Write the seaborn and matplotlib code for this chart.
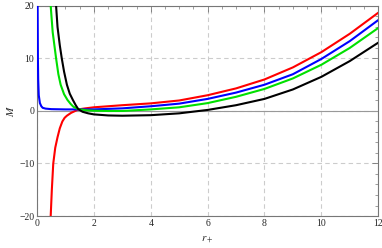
import numpy as np
import pandas as pd
import seaborn as sns
import matplotlib
matplotlib.use("Agg")
import matplotlib.pyplot as plt
from matplotlib.ticker import MultipleLocator

# ------------------------------------------------------------------------------------------------ #
# Values
red_r = [0.48, 0.52, 0.57, 0.64, 0.72, 0.80, 0.89, 0.97, 1.05, 1.2, 1.34, 1.45, 1.7, 2, 3, 4, 5, 6, 7,
         8, 9, 10, 11, 12]
red_m = [-20, -15, -10, -7, -5, -3.3, -2, -1.3, -0.9, -0.35, 0, 0.3, 0.5, 0.7, 1.1, 1.45, 2.0, 3.0, 4.3,
         6.0, 8.3, 11.2, 14.7, 18.7]

blue_r = [0.02, 0.025, 0.03, 0.04, 0.06, 0.1, 0.15, 0.2, 0.3, 0.5, 1, 1.45, 2, 3, 4, 5, 6, 7, 8, 9,
          10, 11, 12]
blue_m = [20, 15, 10, 6, 3, 1.5, 0.9, 0.6, 0.45, 0.35, 0.3, 0.3, 0.3, 0.5, 0.9, 1.4, 2.3, 3.5, 5.0, 7.0,
          9.9, 13.3, 17.3]

green_r = [0.48, 0.55, 0.67, 0.75, 0.83, 0.95, 1.07, 1.18, 1.28, 1.45, 1.7, 2, 2.5, 3, 4, 5, 6, 7, 8,
           9, 10, 11, 12]
green_m = [20, 15, 10, 7, 5, 3.2, 2.1, 1.35, 0.8, 0.35, 0.15, 0.05, 0.0, 0.0, 0.3, 0.7, 1.5, 2.7, 4.2,
           6.2, 8.8, 12.0, 15.8]

black_r = [0.67, 0.72, 0.80, 0.87, 0.95, 1.05, 1.15, 1.26, 1.36, 1.45, 1.6, 1.8, 2, 2.5, 3, 4, 5, 6, 7,
           8, 9, 10, 11, 12]
black_m = [20, 16, 12.5, 10, 7.5, 5, 3.3, 2.1, 1.1, 0.35, -0.15, -0.45, -0.65, -0.85, -0.9, -0.8, -0.45,
           0.2, 1.1, 2.3, 4.1, 6.5, 9.5, 13.0]

curves = {"red": (red_r, red_m), "blue": (blue_r, blue_m),
          "green": (green_r, green_m), "black": (black_r, black_m)}
colors = {"red": "#ff0000", "blue": "#0000ff", "green": "#00e000", "black": "#000000"}
# ------------------------------------------------------------------------------------------------ #

sns.set_style("white")
plt.rcParams["font.family"] = ["Liberation Serif", "DejaVu Serif"]
plt.rcParams["mathtext.fontset"] = "stix"

fig = plt.figure(figsize=(3.82, 2.48), dpi=100)
ax = fig.add_axes([0.097, 0.129, 0.893, 0.847])

frames = []
for name, (r, m) in curves.items():
    frames.append(pd.DataFrame({"r": r, "M": m, "curve": name}))
df = pd.concat(frames, ignore_index=True)

# zero axis and grid first, curves on top
ax.axhline(0, color="#999999", lw=0.8, zorder=1)
for name in curves:
    sns.lineplot(data=df[df["curve"] == name], x="r", y="M", color=colors[name],
                 lw=1.5, sort=False, estimator=None, ax=ax, zorder=3)

ax.set_xlim(0, 12)
ax.set_ylim(-20, 20)
ax.xaxis.set_major_locator(MultipleLocator(2))
ax.xaxis.set_minor_locator(MultipleLocator(0.5))
ax.yaxis.set_major_locator(MultipleLocator(10))
ax.yaxis.set_minor_locator(MultipleLocator(2))
ax.grid(True, which="major", ls=(0, (4, 3)), color="#cccccc", lw=0.8, zorder=0)
ax.tick_params(which="both", direction="in", top=True, right=True, color="#777777",
               labelsize=7, pad=2)
ax.tick_params(which="major", length=4, width=0.6)
ax.tick_params(which="minor", length=2, width=0.5)
for spine in ax.spines.values():
    spine.set_color("#777777")
    spine.set_linewidth(0.8)

ax.set_xlabel(r"$r_+$", fontsize=8, labelpad=5)
ax.set_ylabel(r"$M$", fontsize=8, labelpad=2)

fig.savefig("out.png", dpi=100)
